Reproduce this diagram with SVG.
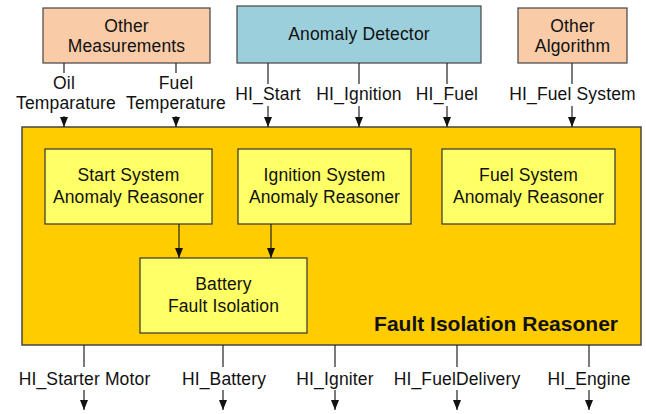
<svg xmlns="http://www.w3.org/2000/svg" width="646" height="414" viewBox="0 0 646 414">
<defs>
<style>
text{font-family:"Liberation Sans",Arial,sans-serif;font-size:17.5px;letter-spacing:0.15px;fill:#111;text-anchor:middle}
.b{font-weight:bold;font-size:21px;letter-spacing:0;text-anchor:end}
.peach{fill:#F9CBA7;stroke:#444;stroke-width:1.2}
.blue{fill:#9ACFDB;stroke:#444;stroke-width:1.2}
.outer{fill:#FFCC00;stroke:#444;stroke-width:1.5}
.inner{fill:#FFFF66;stroke:#333;stroke-width:1.2}
.ln{stroke:#222;stroke-width:1.2;fill:none}
.ar{stroke:#222;stroke-width:1.2;fill:none;marker-end:url(#ah)}
</style>
<marker id="ah" markerWidth="10" markerHeight="8" refX="10" refY="4" orient="auto" markerUnits="userSpaceOnUse" viewBox="0 0 10 8">
<path d="M0,0 L10,4 L0,8 Z" fill="#111"/>
</marker>
</defs>
<g id="fault-isolation-reasoner">
<rect class="outer" x="22" y="127" width="619" height="218"/>
<text class="b" x="618" y="331">Fault Isolation Reasoner</text>
</g>
<g id="other-measurements">
<rect class="peach" x="43" y="8" width="167" height="55"/>
<text x="126.5" y="32">Other</text>
<text x="126.5" y="52">Measurements</text>
</g>
<g id="anomaly-detector">
<rect class="blue" x="237" y="6" width="244" height="57"/>
<text x="359" y="40">Anomaly Detector</text>
</g>
<g id="other-algorithm">
<rect class="peach" x="518" y="8" width="109" height="55"/>
<text x="572.5" y="32">Other</text>
<text x="572.5" y="52">Algorithm</text>
</g>
<g id="start-system">
<rect class="inner" x="45" y="149" width="167" height="75"/>
<text x="128.5" y="181">Start System</text>
<text x="128.5" y="203">Anomaly Reasoner</text>
</g>
<g id="ignition-system">
<rect class="inner" x="238" y="149" width="173" height="75"/>
<text x="324.5" y="181">Ignition System</text>
<text x="324.5" y="203">Anomaly Reasoner</text>
</g>
<g id="fuel-system">
<rect class="inner" x="442" y="149" width="173" height="75"/>
<text x="528.5" y="181">Fuel System</text>
<text x="528.5" y="203">Anomaly Reasoner</text>
</g>
<g id="battery">
<rect class="inner" x="140" y="258" width="167" height="75"/>
<text x="223.5" y="290">Battery</text>
<text x="223.5" y="312">Fault Isolation</text>
</g>
<g id="connectors">
<line class="ln" x1="64" y1="63" x2="64" y2="73"/>
<line class="ar" x1="64" y1="116" x2="64" y2="127"/>
<text x="64" y="89">Oil</text>
<text x="66" y="109">Temparature</text>
<line class="ln" x1="176" y1="63" x2="176" y2="73"/>
<line class="ar" x1="176" y1="116" x2="176" y2="127"/>
<text x="176" y="89">Fuel</text>
<text x="176" y="109">Temperature</text>
<line class="ln" x1="268" y1="63" x2="268" y2="84"/>
<line class="ar" x1="268" y1="106" x2="268" y2="127"/>
<text x="268" y="100">HI_Start</text>
<line class="ln" x1="359" y1="63" x2="359" y2="84"/>
<line class="ar" x1="359" y1="106" x2="359" y2="127"/>
<text x="359" y="100">HI_Ignition</text>
<line class="ln" x1="447" y1="63" x2="447" y2="84"/>
<line class="ar" x1="447" y1="106" x2="447" y2="127"/>
<text x="447" y="100">HI_Fuel</text>
<line class="ln" x1="572" y1="63" x2="572" y2="84"/>
<line class="ar" x1="572" y1="106" x2="572" y2="127"/>
<text x="572.5" y="100">HI_Fuel System</text>
<line class="ar" x1="179" y1="224" x2="179" y2="258"/>
<line class="ar" x1="271" y1="224" x2="271" y2="258"/>
<line class="ln" x1="84" y1="345" x2="84" y2="367"/>
<line class="ar" x1="84" y1="390" x2="84" y2="410"/>
<text x="84.5" y="385">HI_Starter Motor</text>
<line class="ln" x1="223" y1="345" x2="223" y2="367"/>
<line class="ar" x1="223" y1="390" x2="223" y2="410"/>
<text x="224" y="385">HI_Battery</text>
<line class="ln" x1="335" y1="345" x2="335" y2="367"/>
<line class="ar" x1="335" y1="390" x2="335" y2="410"/>
<text x="335" y="385">HI_Igniter</text>
<line class="ln" x1="457" y1="345" x2="457" y2="367"/>
<line class="ar" x1="457" y1="390" x2="457" y2="410"/>
<text x="457" y="385">HI_FuelDelivery</text>
<line class="ln" x1="589" y1="345" x2="589" y2="367"/>
<line class="ar" x1="589" y1="390" x2="589" y2="410"/>
<text x="589" y="385">HI_Engine</text>
</g>
</svg>
